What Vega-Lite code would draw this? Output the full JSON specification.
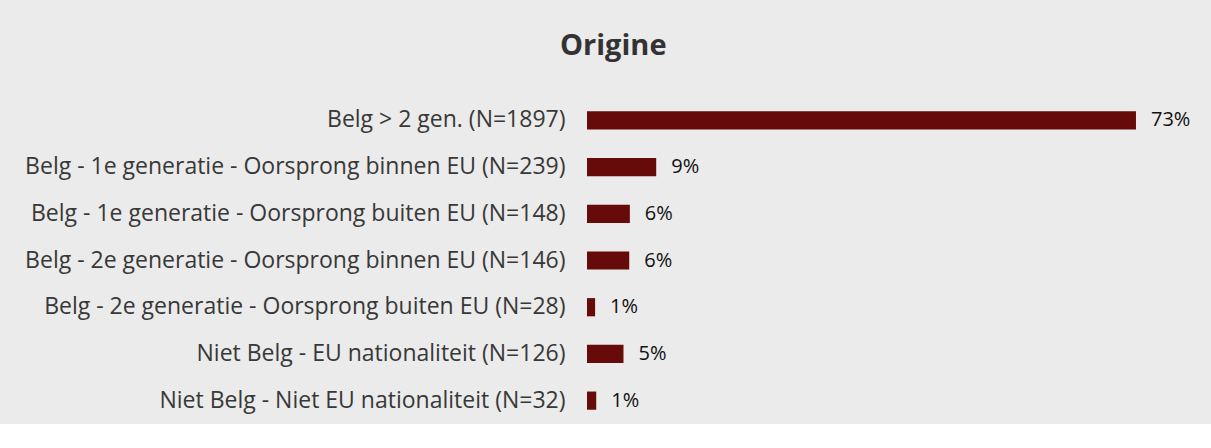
{
  "$schema": "https://vega.github.io/schema/vega-lite/v6.json",
  "autosize": "none",
  "width": 757,
  "height": 327,
  "padding": {"left": 587, "top": 97, "right": 0, "bottom": 0},
  "background": "#ebebeb",
  "config": {"view": {"stroke": null}, "font": "Open Sans"},
  "title": {
    "text": "Origine",
    "anchor": "start",
    "frame": "group",
    "dx": -27,
    "offset": 36,
    "fontSize": 29,
    "fontWeight": "bold",
    "color": "#333333",
    "font": "Open Sans"
  },
  "data": {
    "values": [
      {"cat": "Belg > 2 gen. (N=1897)", "pct": 0.7252},
      {"cat": "Belg - 1e generatie - Oorsprong binnen EU (N=239)", "pct": 0.0914},
      {"cat": "Belg - 1e generatie - Oorsprong buiten EU (N=148)", "pct": 0.0566},
      {"cat": "Belg - 2e generatie - Oorsprong binnen EU (N=146)", "pct": 0.0558},
      {"cat": "Belg - 2e generatie - Oorsprong buiten EU (N=28)", "pct": 0.0107},
      {"cat": "Niet Belg - EU nationaliteit (N=126)", "pct": 0.0482},
      {"cat": "Niet Belg - Niet EU nationaliteit (N=32)", "pct": 0.0122}
    ]
  },
  "encoding": {
    "y": {
      "field": "cat",
      "type": "nominal",
      "sort": null,
      "scale": {"paddingInner": 0.61, "paddingOuter": 0.305},
      "axis": {
        "title": null,
        "domain": false,
        "ticks": false,
        "labelPadding": 22,
        "labelFontSize": 23,
        "labelColor": "#383838",
        "labelLimit": 0,
        "labelFont": "Open Sans"
      }
    },
    "x": {
      "field": "pct",
      "type": "quantitative",
      "scale": {"domain": [0, 1]},
      "axis": null
    }
  },
  "layer": [
    {"mark": {"type": "bar", "color": "#660a0a"}},
    {
      "mark": {"type": "text", "align": "left", "dx": 15, "fontSize": 20, "color": "#111111", "font": "Open Sans"},
      "encoding": {"text": {"field": "pct", "type": "quantitative", "format": ".0%"}}
    }
  ]
}
